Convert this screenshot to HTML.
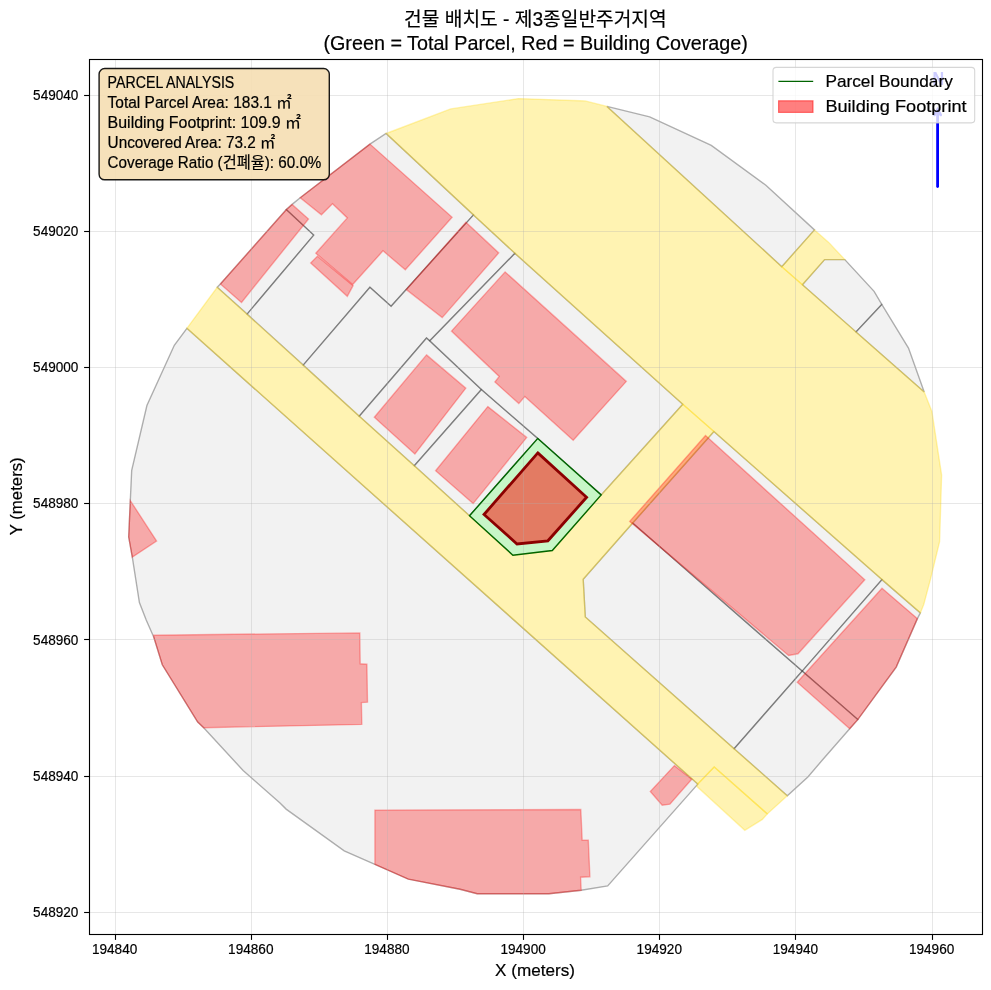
<!DOCTYPE html>
<html lang="ko"><head><meta charset="utf-8"><title>건물 배치도</title>
<style>html,body{margin:0;padding:0;background:#fff}svg{display:block}text{font-family:"Liberation Sans", "Noto Sans CJK KR", sans-serif;fill:#000;stroke:#000;stroke-width:0.2px}</style></head><body>
<svg width="991" height="990" viewBox="0 0 991 990">
<rect width="991" height="990" fill="#fff"/>
<defs><clipPath id="ax"><rect x="89.5" y="59.5" width="893.0" height="875.0"/></clipPath></defs>
<g clip-path="url(#ax)">
<g fill="rgba(211,211,211,0.3)" stroke="rgba(0,0,0,0.3)" stroke-width="1.39" stroke-linejoin="miter">
<polygon points="217.2,287.3 220.4,284.0 286.3,209.6 313.7,235.1 247.1,314.1"/>
<polygon points="286.3,209.6 292.1,204.4 300.2,197.7 369.9,144.1 386.1,133.5 473.5,214.9 391.1,306.2 369.9,287.2 303.2,365.1 247.1,314.1 313.7,235.1"/>
<polygon points="473.5,214.9 514.9,253.3 429.8,340.8 426.5,338.0 359.2,416.2 303.2,365.1 369.9,287.2 391.1,306.2"/>
<polygon points="426.5,338.0 481.4,389.5 414.3,465.7 359.2,416.2"/>
<polygon points="481.4,389.5 537.8,438.4 469.5,515.8 414.3,465.7"/>
<polygon points="514.9,253.3 682.8,404.2 601.2,494.9 537.8,438.4 481.4,389.5 429.8,340.8"/>
<polygon points="186.9,328.3 174.3,345.3 146.9,405.5 131.7,470.3 130.3,500.6 128.7,537.0 132.3,557.2 139.4,602.6 146.2,620.0 153.8,637.2 162.3,664.8 197.7,722.0 203.7,727.7 243.1,770.5 280.0,803.0 286.1,809.1 344.2,850.9 374.9,864.4 408.3,879.2 460.0,889.3 477.2,893.7 548.9,893.7 581.2,890.3 607.7,885.9 697.8,784.1"/>
<polygon points="632.7,523.0 583.2,579.2 585.3,617.0 734.1,748.7 802.2,671.1"/>
<polygon points="713.9,431.5 882.0,579.6 802.2,671.1 632.7,523.0"/>
<polygon points="882.0,579.6 920.4,612.9 917.4,618.6 896.2,667.1 857.8,719.6 802.2,671.1"/>
<polygon points="802.2,671.1 857.8,719.6 849.7,728.7 822.4,760.0 807.9,777.0 787.3,795.8 734.1,748.7"/>
<polygon points="606.9,106.4 649.7,116.9 711.3,145.4 765.9,185.2 814.5,229.9 781.8,266.7"/>
<polygon points="802.4,284.8 824.6,259.6 844.8,259.6 874.1,291.3 881.8,304.4 856.0,331.9"/>
<polygon points="856.0,331.9 881.8,304.4 908.5,348.1 924.2,391.9"/>
</g>
<g fill="rgba(255,215,0,0.3)" stroke="rgba(255,215,0,0.3)" stroke-width="1.39" stroke-linejoin="miter">
<polygon points="217.2,287.3 469.5,515.8 512.9,555.2 552.3,550.5 601.2,494.9 682.8,404.2 713.9,431.5 632.7,523.0 583.2,579.2 585.3,617.0 787.3,795.8 767.3,813.9 714.2,766.9 697.8,784.1 186.9,328.3"/>
<polygon points="697.8,784.1 714.2,766.9 767.3,813.9 762.4,819.4 744.8,830.3 696.7,786.3"/>
<polygon points="386.1,133.5 450.7,108.9 518.4,98.6 580.0,100.7 585.1,100.9 606.9,106.4 781.8,266.7 802.4,284.8 856.0,331.9 924.2,391.9 931.9,411.4 941.6,475.1 939.6,541.7 930.5,579.2 923.8,604.4 920.4,612.9 882.0,579.6 713.9,431.5 682.8,404.2 514.9,253.3 473.5,214.9"/>
<polygon points="781.8,266.7 814.5,229.9 828.7,242.4 844.8,259.6 824.6,259.6 802.4,284.8"/>
</g>
<g fill="rgba(255,0,0,0.3)" stroke="rgba(255,0,0,0.3)" stroke-width="1.39" stroke-linejoin="miter">
<polygon points="220.4,284.0 286.5,209.5 292.1,204.4 308.5,219.0 241.5,302.4"/>
<polygon points="300.2,197.7 369.9,144.1 452.1,217.3 405.3,269.8 383.0,250.8 352.7,284.5 315.8,253.2 347.3,217.9 332.5,203.7 321.4,214.8"/>
<polygon points="317.4,256.3 310.7,262.9 347.3,296.3 353.1,285.6"/>
<polygon points="465.9,222.2 498.7,252.9 442.2,317.6 406.3,289.6"/>
<polygon points="505.1,271.9 626.3,381.4 573.2,440.2 524.8,396.6 518.8,403.6 494.9,382.0 499.2,376.4 451.5,331.1"/>
<polygon points="426.5,354.9 465.8,388.2 414.9,453.9 374.3,417.2"/>
<polygon points="487.8,406.6 526.7,437.4 473.1,503.6 435.6,470.7"/>
<polygon points="705.5,435.6 864.8,579.7 798.0,653.8 788.6,655.5 629.7,521.4"/>
<polygon points="882.0,588.3 917.4,618.6 896.2,667.1 857.8,719.6 849.7,728.7 797.2,682.2"/>
<polygon points="674.4,765.6 691.7,779.3 669.9,804.2 662.2,805.3 650.3,791.5"/>
<polygon points="130.3,500.6 156.6,541.0 132.3,557.2 128.7,537.0"/>
<polygon points="153.8,635.2 359.8,632.9 360.2,663.8 366.9,664.2 367.5,702.2 361.4,702.6 361.8,724.4 203.7,727.7 197.7,722.0 162.3,664.8 153.8,637.2"/>
<polygon points="374.9,810.1 580.8,809.5 582.2,840.2 588.3,840.2 589.9,876.8 580.6,877.2 581.2,890.3 548.9,893.7 477.2,893.7 460.0,889.3 408.3,879.2 374.9,864.4"/>
</g>
<polygon points="537.8,438.4 601.2,494.9 552.3,550.5 512.9,555.2 469.5,515.8" fill="rgba(144,238,144,0.5)" stroke="none"/>
<polygon points="537.8,452.9 586.6,497.3 547.9,540.8 517.0,544.0 484.0,514.5" fill="rgba(255,0,0,0.5)" stroke="none"/>
<g stroke="rgba(176,176,176,0.3)" stroke-width="1" shape-rendering="crispEdges">
<line x1="115.5" y1="59.5" x2="115.5" y2="934.5"/>
<line x1="251.5" y1="59.5" x2="251.5" y2="934.5"/>
<line x1="387.5" y1="59.5" x2="387.5" y2="934.5"/>
<line x1="523.5" y1="59.5" x2="523.5" y2="934.5"/>
<line x1="659.5" y1="59.5" x2="659.5" y2="934.5"/>
<line x1="795.5" y1="59.5" x2="795.5" y2="934.5"/>
<line x1="932.5" y1="59.5" x2="932.5" y2="934.5"/>
<line x1="89.5" y1="95.5" x2="982.5" y2="95.5"/>
<line x1="89.5" y1="231.5" x2="982.5" y2="231.5"/>
<line x1="89.5" y1="367.5" x2="982.5" y2="367.5"/>
<line x1="89.5" y1="503.5" x2="982.5" y2="503.5"/>
<line x1="89.5" y1="639.5" x2="982.5" y2="639.5"/>
<line x1="89.5" y1="776.5" x2="982.5" y2="776.5"/>
<line x1="89.5" y1="912.5" x2="982.5" y2="912.5"/>
</g>
<polygon points="537.8,438.4 601.2,494.9 552.3,550.5 512.9,555.2 469.5,515.8" fill="none" stroke="#006400" stroke-width="1.4" stroke-linejoin="miter"/>
<polygon points="537.8,452.9 586.6,497.3 547.9,540.8 517.0,544.0 484.0,514.5" fill="none" stroke="#8b0000" stroke-width="2.8" stroke-linejoin="miter"/>
<g stroke="#0000ff" stroke-width="2.8" fill="none" stroke-linecap="round"><line x1="937.6" y1="186.6" x2="937.6" y2="110"/><polyline points="934.4,115.0 937.6,109.4 940.8,115.0" stroke-width="2.6" stroke-linejoin="miter"/></g>
<text x="938.3" y="85.3" font-size="18.5" font-weight="bold" text-anchor="middle" textLength="11.6" lengthAdjust="spacingAndGlyphs" style="fill:#0000ff;stroke:#0000ff">N</text>
</g>
<rect x="89.5" y="59.5" width="893.0" height="875.0" fill="none" stroke="#000" stroke-width="1.11"/>
<g stroke="#000" stroke-width="1.11">
<line x1="115.5" y1="934.5" x2="115.5" y2="939.9"/>
<line x1="251.5" y1="934.5" x2="251.5" y2="939.9"/>
<line x1="387.5" y1="934.5" x2="387.5" y2="939.9"/>
<line x1="523.5" y1="934.5" x2="523.5" y2="939.9"/>
<line x1="659.5" y1="934.5" x2="659.5" y2="939.9"/>
<line x1="795.5" y1="934.5" x2="795.5" y2="939.9"/>
<line x1="932.5" y1="934.5" x2="932.5" y2="939.9"/>
<line x1="84.1" y1="95.5" x2="89.5" y2="95.5"/>
<line x1="84.1" y1="231.5" x2="89.5" y2="231.5"/>
<line x1="84.1" y1="367.5" x2="89.5" y2="367.5"/>
<line x1="84.1" y1="503.5" x2="89.5" y2="503.5"/>
<line x1="84.1" y1="639.5" x2="89.5" y2="639.5"/>
<line x1="84.1" y1="776.5" x2="89.5" y2="776.5"/>
<line x1="84.1" y1="912.5" x2="89.5" y2="912.5"/>
</g>
<g font-size="15.1">
<text x="114.6" y="954.2" text-anchor="middle" textLength="45.4" lengthAdjust="spacingAndGlyphs">194840</text>
<text x="250.8" y="954.2" text-anchor="middle" textLength="45.4" lengthAdjust="spacingAndGlyphs">194860</text>
<text x="386.9" y="954.2" text-anchor="middle" textLength="45.4" lengthAdjust="spacingAndGlyphs">194880</text>
<text x="523.1" y="954.2" text-anchor="middle" textLength="45.4" lengthAdjust="spacingAndGlyphs">194900</text>
<text x="659.3" y="954.2" text-anchor="middle" textLength="45.4" lengthAdjust="spacingAndGlyphs">194920</text>
<text x="795.4" y="954.2" text-anchor="middle" textLength="45.4" lengthAdjust="spacingAndGlyphs">194940</text>
<text x="931.6" y="954.2" text-anchor="middle" textLength="45.4" lengthAdjust="spacingAndGlyphs">194960</text>
<text x="78.4" y="99.9" text-anchor="end" textLength="45.3" lengthAdjust="spacingAndGlyphs">549040</text>
<text x="78.4" y="236.1" text-anchor="end" textLength="45.3" lengthAdjust="spacingAndGlyphs">549020</text>
<text x="78.4" y="372.2" text-anchor="end" textLength="45.3" lengthAdjust="spacingAndGlyphs">549000</text>
<text x="78.4" y="508.4" text-anchor="end" textLength="45.3" lengthAdjust="spacingAndGlyphs">548980</text>
<text x="78.4" y="644.6" text-anchor="end" textLength="45.3" lengthAdjust="spacingAndGlyphs">548960</text>
<text x="78.4" y="780.7" text-anchor="end" textLength="45.3" lengthAdjust="spacingAndGlyphs">548940</text>
<text x="78.4" y="916.9" text-anchor="end" textLength="45.3" lengthAdjust="spacingAndGlyphs">548920</text>
</g>
<text x="535.0" y="975.7" font-size="17.0" text-anchor="middle" textLength="79.8" lengthAdjust="spacingAndGlyphs">X (meters)</text>
<text transform="translate(21.7,496.3) rotate(-90)" font-size="17.0" text-anchor="middle" textLength="78" lengthAdjust="spacingAndGlyphs">Y (meters)</text>
<text x="535.4" y="26.3" font-size="19.44" text-anchor="middle" textLength="262.6" lengthAdjust="spacingAndGlyphs">건물 배치도 - 제3종일반주거지역</text>
<text x="535.65" y="49.7" font-size="19.9" text-anchor="middle" textLength="424.4" lengthAdjust="spacingAndGlyphs">(Green = Total Parcel, Red = Building Coverage)</text>
<rect x="773.0" y="67.4" width="201.7" height="55.5" rx="3.3" ry="3.3" fill="rgba(255,255,255,0.8)" stroke="rgba(204,204,204,0.8)" stroke-width="1.1"/>
<line x1="778.4" y1="81.4" x2="813.2" y2="81.4" stroke="#006400" stroke-width="1.4"/>
<rect x="778.6" y="100.8" width="34.4" height="11.6" fill="rgba(255,0,0,0.5)" stroke="rgba(255,0,0,0.5)" stroke-width="1.2"/>
<text x="825.4" y="86.9" font-size="17.0" textLength="127.4" lengthAdjust="spacingAndGlyphs">Parcel Boundary</text>
<text x="825.4" y="111.9" font-size="17.0" textLength="141.2" lengthAdjust="spacingAndGlyphs">Building Footprint</text>
<rect x="99.1" y="68.5" width="230.2" height="111.3" rx="5.6" ry="5.6" fill="rgba(245,222,179,0.9)" stroke="rgba(0,0,0,0.9)" stroke-width="1.4"/>
<text x="107.6" y="88.0" font-size="15.65" textLength="126.7" lengthAdjust="spacingAndGlyphs">PARCEL ANALYSIS</text>
<text x="107.6" y="107.9" font-size="15.65" textLength="184.1" lengthAdjust="spacingAndGlyphs">Total Parcel Area: 183.1 ㎡</text>
<text x="107.6" y="127.8" font-size="15.65" textLength="193.3" lengthAdjust="spacingAndGlyphs">Building Footprint: 109.9 ㎡</text>
<text x="107.6" y="147.7" font-size="15.65" textLength="167.8" lengthAdjust="spacingAndGlyphs">Uncovered Area: 73.2 ㎡</text>
<text x="107.6" y="167.6" font-size="15.65" textLength="213.8" lengthAdjust="spacingAndGlyphs">Coverage Ratio (건폐율): 60.0%</text>
</svg></body></html>
